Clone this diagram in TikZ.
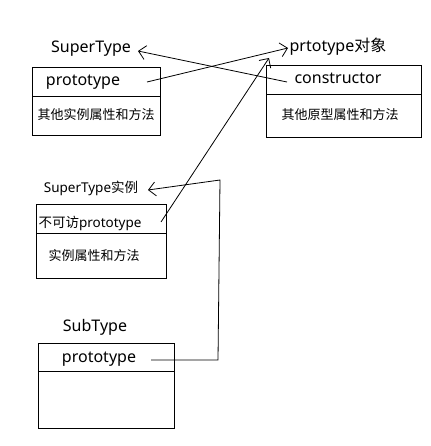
\documentclass[tikz,border=0pt]{standalone}
\usepackage{fontspec}
\setmainfont{Noto Sans}
\newfontfamily\cjk{Noto Sans CJK SC}
\usetikzlibrary{arrows.meta}

\tikzset{
  title/.style={anchor=base, inner sep=0pt, font=\fontsize{16}{18}\selectfont},
  small/.style={anchor=base, inner sep=0pt, font=\fontsize{13.5}{16}\selectfont},
  body/.style={anchor=base, inner sep=0pt, font=\cjk\fontsize{13}{15}\selectfont},
  vArrow/.style={-{Straight Barb[length=7pt,width=14pt]}},
}

\begin{document}
\begin{tikzpicture}[x=1pt, y=-1pt, line width=0.8pt]
	\fill[white] (0,0) rectangle (430,446);

	% boxes
	\draw (32,67) rectangle (160,135);
	\draw (32,96) -- (160,96);
	\draw (266,65) rectangle (421,137);
	\draw (266,94) -- (421,94);
	\draw (36,204) rectangle (166,278);
	\draw (36,233) -- (166,233);
	\draw (38,343) rectangle (174,428);
	\draw (38,371) -- (174,371);

	% texts
	\node[title] (supT) at (91,53) {SuperType};
	\node[title] (proto1) at (83,86) {prototype};
	\node[body] (other1) at (96,120) {其他实例属性和方法};

	\node[title] (objT) at (338,52) {prtotype{\cjk 对象}};
	\node[title] (ctor) at (338,84) {constructor};
	\node[body] (other2) at (340,120) {其他原型属性和方法};

	\node[small] (instT) at (91,193) {SuperType{\cjk 实例}};
	\node[small] (proto3) at (90,227) {{\cjk 不可访}prototype};
	\node[body] (other3) at (94,260) {实例属性和方法};

	\node[title] (subT) at (95,331) {SubType};
	\node[title] (proto4) at (99,362) {prototype};

	% connector ends
	\coordinate (p1Out) at (147,82);
	\coordinate (objIn) at (288,48);
	\coordinate (ctorOut) at (287,82);
	\coordinate (supIn) at (138,51);
	\coordinate (p3Out) at (161,222);
	\coordinate (objIn2) at (269,58);
	\coordinate (p4Out) at (151,360);
	\coordinate (bendA) at (218,360);
	\coordinate (bendB) at (220,180);
	\coordinate (instIn) at (148,190);

	\draw[vArrow] (p1Out) -- (objIn);
	\draw[vArrow] (ctorOut) -- (supIn);
	\draw[vArrow] (p3Out) -- (objIn2);
	\draw[vArrow] (p4Out) -- (bendA) -- (bendB) -- (instIn);
\end{tikzpicture}
\end{document}
